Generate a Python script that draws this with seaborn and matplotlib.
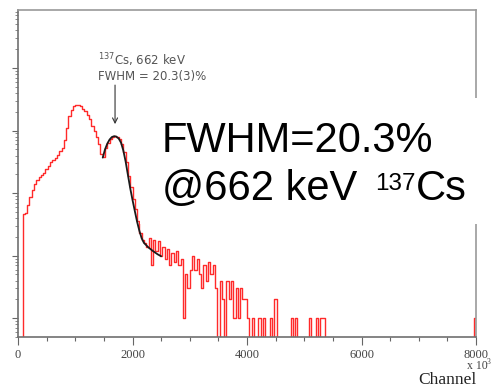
import matplotlib
matplotlib.use("Agg")
import matplotlib.pyplot as plt
import seaborn as sns
from matplotlib.patches import Rectangle
from matplotlib.ticker import LogLocator, NullFormatter, MultipleLocator, FixedLocator

# Spectrum: left edge of each channel bin and its counts (steps hold until next edge)
channel = [0, 80, 120, 160, 200, 240, 280, 320, 360, 400, 440, 480, 520, 560, 600,
           640, 680, 720, 760, 800, 840, 880, 920, 960, 1000, 1040, 1080, 1120, 1160,
           1200, 1240, 1280, 1320, 1360, 1400, 1440, 1480, 1520, 1560, 1600, 1640,
           1680, 1720, 1760, 1800, 1840, 1880, 1920, 1960, 2000, 2040, 2080, 2120,
           2160, 2200, 2240, 2280, 2320, 2360, 2400, 2440, 2480, 2520, 2560, 2600,
           2640, 2680, 2720, 2760, 2800, 2840, 2880, 2920, 2960, 3000, 3040, 3080,
           3120, 3160, 3200, 3240, 3280, 3320, 3360, 3400, 3440, 3480, 3520, 3560,
           3600, 3640, 3680, 3720, 3760, 3800, 3840, 3880, 3920, 3960, 4000, 4040,
           4080, 4120, 4200, 4240, 4280, 4320, 4400, 4440, 4480, 4520, 4760, 4800,
           4840, 4880, 5080, 5120, 5200, 5240, 5280, 5320, 5360, 7960, 8000]
counts = [0, 46, 48, 64, 88, 112, 140, 165, 182, 196, 212, 240, 272, 312, 338,
          360, 410, 470, 530, 700, 1120, 1700, 2100, 2450, 2570, 2540, 2450, 2250, 2050,
          1800, 1550, 1200, 980, 800, 600, 430, 380, 520, 630, 730, 790,
          815, 800, 740, 610, 450, 310, 190, 125, 82, 55, 36, 23,
          18, 16, 14, 19, 7, 18, 12, 17, 10, 14, 9, 13,
          7, 11, 8, 12, 7, 9, 1, 5, 3, 6, 10, 6,
          9, 5, 3, 7, 4, 8, 5, 7, 3, 0, 4, 2,
          0, 4, 2, 4, 1, 3, 1, 3, 2, 2, 1, 0,
          1, 0, 1, 0, 1, 0, 1, 0, 2, 0, 1, 0,
          1, 0, 1, 0, 1, 0, 1, 1, 0, 1, 0]

# Photopeak fit (Gaussian + background) evaluated along the peak
fit_channel = [1480, 1520, 1560, 1600, 1640, 1680, 1720, 1760, 1800, 1840, 1880,
               1920, 1960, 2000, 2040, 2080, 2120, 2160, 2200, 2280, 2360, 2440, 2500]
fit_counts = [370, 500, 620, 720, 790, 815, 800, 745, 640, 480, 320,
              195, 120, 78, 52, 35, 25, 19, 16, 13.5, 11.8, 10.5, 9.8]

xticks = [0, 2000, 4000, 6000, 8000]
xtick_labels = ["0", "2000", "4000", "6000", "8000"]

sns.set_style("white")
plt.rcParams["font.family"] = ["Liberation Sans", "DejaVu Sans"]

W, H = 493, 387
fig = plt.figure(figsize=(W / 100, H / 100), dpi=100)
ax = fig.add_axes([18 / W, 1 - 337 / H, (476 - 18) / W, (337 - 10) / H])


def fx(px):
    return px / W


def fy(py):
    return 1 - py / H


sns.lineplot(x=channel, y=counts, drawstyle="steps-post", color="#ff2a2a",
             lw=1.0, ax=ax, estimator=None, sort=False)
sns.lineplot(x=fit_channel, y=fit_counts, color="#1a1a1a", lw=1.3, ax=ax,
             estimator=None, sort=False)

ax.set_yscale("log")
ax.set_xlim(0, 8000)
ax.set_ylim(0.5, 85000)
ax.set_xlabel("")
ax.set_ylabel("")

ax.xaxis.set_major_locator(FixedLocator(xticks))
ax.set_xticklabels(xtick_labels, family="Liberation Serif", fontsize=9, color="#444")
ax.xaxis.set_minor_locator(MultipleLocator(500))
ax.yaxis.set_major_locator(LogLocator(base=10))
ax.yaxis.set_minor_locator(LogLocator(base=10, subs=range(2, 10), numticks=20))
ax.yaxis.set_major_formatter(NullFormatter())
ax.yaxis.set_minor_formatter(NullFormatter())

ax.tick_params(axis="x", which="major", bottom=True, direction="out", length=6,
               width=0.8, color="#666", pad=3)
ax.tick_params(axis="x", which="minor", bottom=True, direction="out", length=3,
               width=0.8, color="#666")
ax.tick_params(axis="y", which="major", left=True, direction="out", length=4,
               width=0.8, color="#666", labelleft=False)
ax.tick_params(axis="y", which="minor", left=True, direction="out", length=2.5,
               width=0.6, color="#777")

for side in ["left", "bottom"]:
    ax.spines[side].set_color("#707070")
    ax.spines[side].set_linewidth(1.2)
for side in ["top", "right"]:
    ax.spines[side].set_color("#9a9a9a")
    ax.spines[side].set_linewidth(1.2)

# Peak annotation
ax.annotate("", xy=(1695, 1270), xytext=(1695, 5350),
            arrowprops=dict(arrowstyle="->", color="#333", lw=0.8,
                            shrinkA=0, shrinkB=0, mutation_scale=9))
fig.text(fx(98), fy(65), "$^{137}$Cs, 662 keV", family="DejaVu Sans",
         fontsize=8.5, color="#555", va="baseline")
fig.text(fx(98), fy(80), "FWHM = 20.3(3)%", family="DejaVu Sans",
         fontsize=8.5, color="#555", va="baseline")

# Axis multiplier and title
fig.text(fx(467), fy(369), "x 10", family="Liberation Serif", fontsize=8.5,
         color="#444", va="baseline")
fig.text(fx(487), fy(364), "3", family="Liberation Serif", fontsize=5.5,
         color="#444", va="baseline")
fig.text(fx(418), fy(384), "Channel", family="Liberation Serif", fontsize=12.5,
         color="#222", va="baseline")

# Resolution callout on a white panel
panel = Rectangle((fx(140), fy(224)), (W - 140) / W, 126 / H,
                  transform=fig.transFigure, facecolor="white", edgecolor="none",
                  zorder=2)
fig.add_artist(panel)
big = dict(family="Liberation Sans", color="black", va="baseline", zorder=3)
fig.text(fx(162), fy(152), "FWHM=20.3%", fontsize=30, **big)
fig.text(fx(162), fy(200), "@662 keV", fontsize=30, **big)
fig.text(fx(375), fy(190), "137", fontsize=17.5, **big)
fig.text(fx(416), fy(200), "Cs", fontsize=30, **big)

fig.savefig("out.png", dpi=100)
